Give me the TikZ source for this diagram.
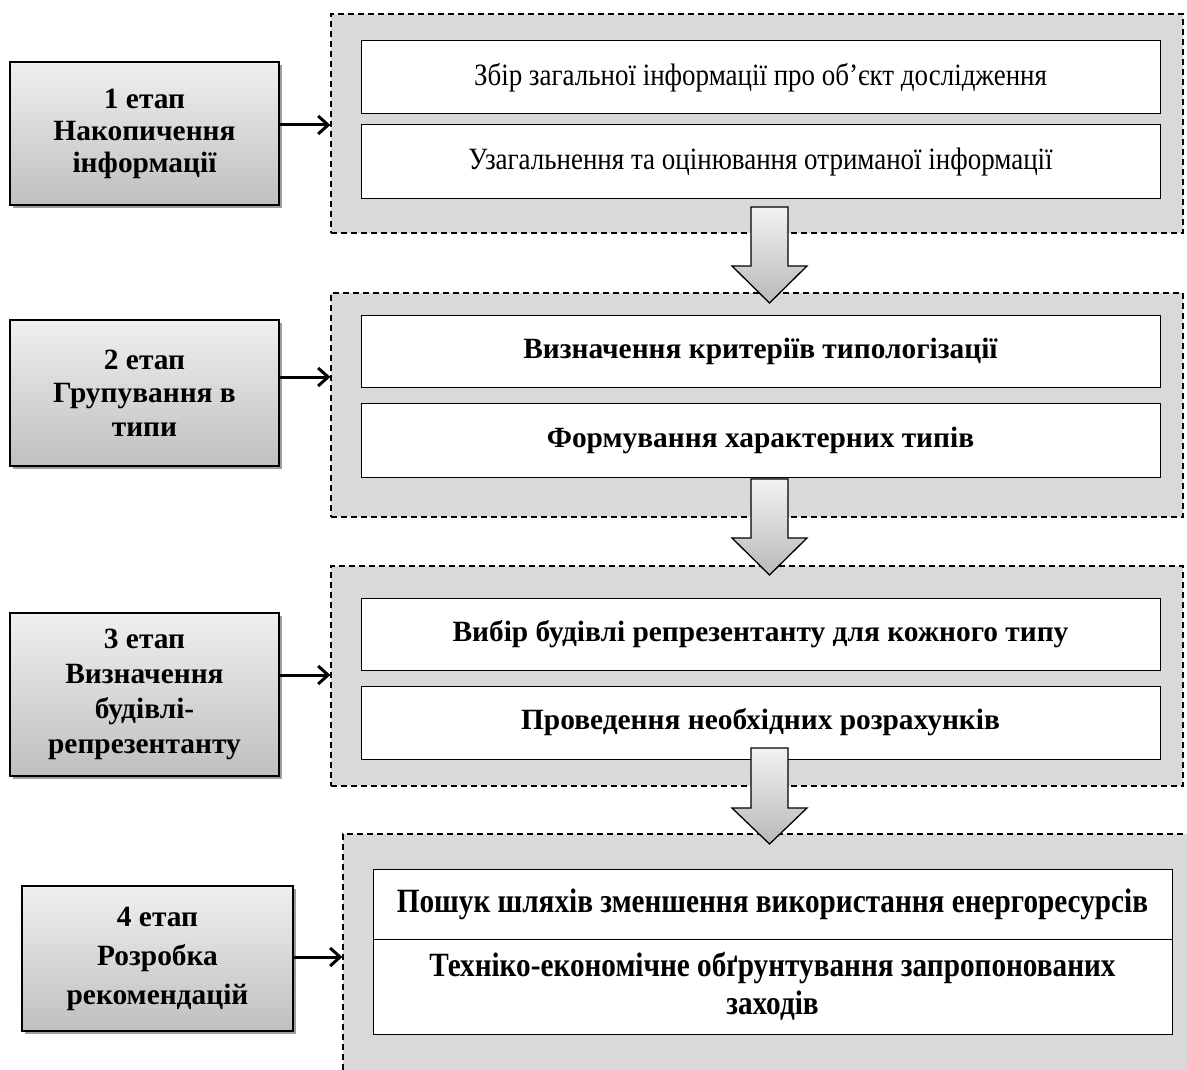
\documentclass[tikz,border=0pt]{standalone}
\usepackage{fontspec}
\setmainfont{Liberation Serif}
\newfontfamily\condserif[FakeStretch=0.87]{Liberation Serif}
\newfontfamily\condserifb[FakeStretch=0.86]{Liberation Serif}
\usetikzlibrary{arrows.meta,shadows}
\begin{document}
\begin{tikzpicture}[x=1pt,y=-1pt,
  stagebox/.style={draw=black, line width=1.4pt, top color=gray!12, bottom color=gray!50,
    align=center, font=\fontsize{29.4}{32}\selectfont\bfseries, inner sep=0pt,
    drop shadow={shadow xshift=3pt, shadow yshift=-3pt, fill=gray!75, opacity=1}},
  container/.style={draw=black, fill=gray!30, line width=1.3pt, dash pattern=on 6pt off 4pt, inner sep=0pt},
  innerbox/.style={draw=black, fill=white, line width=1pt, inner sep=0pt, align=center, minimum width=799pt},
  plaintxt/.style={font=\condserif\fontsize{31}{34}\selectfont},
  boldtxt/.style={font=\fontsize{29.4}{34}\selectfont\bfseries},
  condbold/.style={font=\condserifb\fontsize{34}{38}\selectfont\bfseries},
  flowarrow/.style={line width=3pt, -{Straight Barb[length=10pt,width=18pt]}},
  blockarrow/.style={draw=black, line width=1.3pt, top color=gray!10, bottom color=gray!55, line join=miter}
]
\useasboundingbox (0,0) rectangle (1187,1070);
\clip (0,0) rectangle (1187,1070);

% containers
\node[container, minimum width=852pt, minimum height=219pt] (c1) at (757,123.5) {};
\node[container, minimum width=852pt, minimum height=224pt] (c2) at (757,405) {};
\node[container, minimum width=852pt, minimum height=220pt] (c3) at (757,676) {};
\node[container, minimum width=870pt, minimum height=260pt] (c4) at (778,964) {};

% inner boxes
\node[innerbox, minimum height=73pt, plaintxt] (i1a) at (760.5,77.5) {Збір загальної інформації про об’єкт дослідження};
\node[innerbox, minimum height=74pt, plaintxt] (i1b) at (760.5,162) {Узагальнення та оцінювання отриманої інформації};
\node[innerbox, minimum height=72pt, boldtxt] (i2a) at (760.5,351) {Визначення критеріїв типологізації};
\node[innerbox, minimum height=74pt, boldtxt] (i2b) at (760.5,440) {Формування характерних типів};
\node[innerbox, minimum height=72pt, boldtxt] (i3a) at (760.5,634) {Вибір будівлі репрезентанту для кожного типу};
\node[innerbox, minimum height=73pt, boldtxt] (i3b) at (760.5,722.5) {Проведення необхідних розрахунків};
\node[innerbox, minimum height=70pt, condbold] (i4a) at (772.5,904) {Пошук шляхів зменшення використання енергоресурсів};
\node[innerbox, minimum height=95pt, condbold] (i4b) at (772.5,986.5) {Техніко-економічне обґрунтування запропонованих\\заходів};

% stage boxes
\node[stagebox, minimum width=269pt, minimum height=143pt] (s1) at (144.5,133.5) {1 етап\\Накопичення\\інформації};
\node[stagebox, minimum width=269pt, minimum height=146pt, font=\fontsize{29.4}{33.5}\selectfont\bfseries] (s2) at (144.5,393) {2 етап\\Групування в\\типи};
\node[stagebox, minimum width=269pt, minimum height=163pt, font=\fontsize{29.4}{35}\selectfont\bfseries] (s3) at (144.5,694.5) {3 етап\\Визначення\\будівлі-\\репрезентанту};
\node[stagebox, minimum width=271pt, minimum height=145pt, font=\fontsize{29.4}{39}\selectfont\bfseries] (s4) at (157.5,958.5) {4 етап\\Розробка\\рекомендацій};

% horizontal arrows
\draw[flowarrow] (s1.east |- 0,125) -- (c1.west |- 0,125);
\draw[flowarrow] (s2.east |- 0,377) -- (c2.west |- 0,377);
\draw[flowarrow] (s3.east |- 0,675) -- (c3.west |- 0,675);
\draw[flowarrow] (s4.east |- 0,957) -- (c4.west |- 0,957);

% block arrows
\path[blockarrow] (751,207) -- (788,207) -- (788,266) -- (807,266) -- (769.5,303) -- (732,266) -- (751,266) -- cycle;
\path[blockarrow] (751,479) -- (788,479) -- (788,538) -- (807,538) -- (769.5,575) -- (732,538) -- (751,538) -- cycle;
\path[blockarrow] (751,748) -- (788,748) -- (788,808) -- (807,808) -- (769.5,844) -- (732,808) -- (751,808) -- cycle;
\end{tikzpicture}
\end{document}
